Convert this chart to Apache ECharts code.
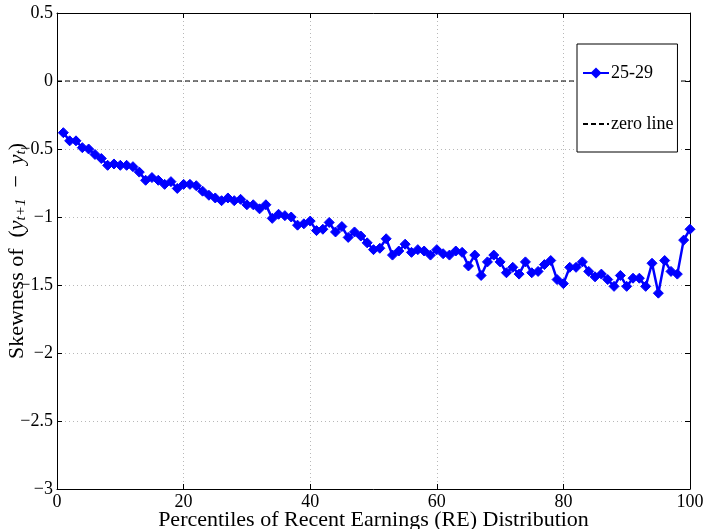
<!DOCTYPE html>
<html>
<head>
<meta charset="utf-8">
<script src="https://cdn.jsdelivr.net/npm/echarts@6/dist/echarts.min.js"></script>
<style>
  html, body { margin: 0; padding: 0; background: #fff; }
  #chart { width: 706px; height: 529px; }
</style>
</head>
<body>
<div id="chart"></div>
<script>
// 백분위 (1..100)
const percentiles = [
  1, 2, 3, 4, 5, 6, 7, 8, 9, 10, 11, 12, 13, 14, 15, 16, 17, 18, 19, 20,
  21, 22, 23, 24, 25, 26, 27, 28, 29, 30, 31, 32, 33, 34, 35, 36, 37, 38, 39, 40,
  41, 42, 43, 44, 45, 46, 47, 48, 49, 50, 51, 52, 53, 54, 55, 56, 57, 58, 59, 60,
  61, 62, 63, 64, 65, 66, 67, 68, 69, 70, 71, 72, 73, 74, 75, 76, 77, 78, 79, 80,
  81, 82, 83, 84, 85, 86, 87, 88, 89, 90, 91, 92, 93, 94, 95, 96, 97, 98, 99, 100
];

// 25-29 그룹 왜도
const skew2529 = [
  -0.38, -0.44, -0.44, -0.49, -0.50, -0.54, -0.57, -0.62, -0.61, -0.62,
  -0.62, -0.63, -0.67, -0.73, -0.71, -0.73, -0.76, -0.74, -0.79, -0.76,
  -0.76, -0.77, -0.81, -0.84, -0.86, -0.88, -0.86, -0.88, -0.87, -0.91,
  -0.91, -0.94, -0.91, -1.01, -0.98, -0.99, -1.00, -1.06, -1.05, -1.03,
  -1.10, -1.09, -1.04, -1.11, -1.07, -1.15, -1.11, -1.14, -1.19, -1.24,
  -1.23, -1.16, -1.28, -1.25, -1.20, -1.26, -1.24, -1.25, -1.28, -1.24,
  -1.27, -1.28, -1.25, -1.26, -1.36, -1.28, -1.43, -1.33, -1.28, -1.33,
  -1.41, -1.37, -1.42, -1.33, -1.41, -1.40, -1.35, -1.32, -1.46, -1.49,
  -1.37, -1.37, -1.33, -1.40, -1.44, -1.42, -1.46, -1.51, -1.43, -1.51,
  -1.45, -1.45, -1.51, -1.34, -1.56, -1.32, -1.40, -1.42, -1.17, -1.09
];

// 기준선
const zeroX = [0, 100];
const zeroY = [0, 0];

const seriesName = '25-29';
const zeroName = 'zero line';
const xTitle = 'Percentiles of Recent Earnings (RE) Distribution';

const font = '"Liberation Serif", "DejaVu Serif", serif';
const fmtMinus = function (v) { return String(v).replace('-', '\u2212'); };

const chart = echarts.init(document.getElementById('chart'));

const gridLine = { show: true, lineStyle: { color: '#b8b8b8', type: [1, 3], width: 1 } };
const axisLine = { show: true, onZero: false, lineStyle: { color: '#000', width: 1 } };
const tick = { show: true, inside: true, length: 5, lineStyle: { color: '#000' } };

chart.setOption({
  animation: false,
  backgroundColor: '#fff',
  grid: { left: 57, right: 16, top: 13, bottom: 40, containLabel: false, outerBoundsMode: 'none' },
  legend: {
    orient: 'vertical',
    left: 577,
    top: 44,
    data: [
      { name: seriesName },
      { name: zeroName, itemStyle: { color: 'transparent', borderColor: 'transparent' } }
    ],
    itemWidth: 26,
    itemHeight: 14,
    itemGap: 33,
    padding: [20, 4, 19, 5],
    borderColor: '#000',
    borderWidth: 1,
    backgroundColor: '#fff',
    textStyle: { fontFamily: font, fontSize: 18, lineHeight: 14, color: '#000', padding: [0, 0, 0, -3] }
  },
  xAxis: [
    {
      type: 'value', min: 0, max: 100, interval: 20,
      name: xTitle, nameLocation: 'middle', nameGap: 21, nameMoveOverlap: false,
      nameTextStyle: { fontFamily: font, fontSize: 22, color: '#000', lineHeight: 20 },
      axisLine: axisLine, axisTick: tick, splitLine: gridLine,
      axisLabel: { fontFamily: font, fontSize: 18, color: '#000', margin: 4 }
    },
    {
      type: 'value', min: 0, max: 100, interval: 20, position: 'top',
      axisLine: axisLine, axisTick: tick, splitLine: { show: false },
      axisLabel: { show: false }
    }
  ],
  yAxis: [
    {
      type: 'value', min: -3, max: 0.5, interval: 0.5,
      name: '{n|Skewness of  (}{i|y}{s|t+1}{n|  \u2212  }{i|y}{s|t}{n|)}',
      nameLocation: 'middle', nameGap: 28, nameRotate: 90, nameMoveOverlap: false,
      nameTextStyle: {
        fontFamily: font, fontSize: 22, color: '#000',
        rich: {
          n: { fontFamily: font, fontSize: 22, color: '#000' },
          i: { fontFamily: font, fontSize: 22, fontStyle: 'italic', color: '#000' },
          s: { fontFamily: font, fontSize: 15, fontStyle: 'italic', color: '#000', padding: [9, 0, 0, 0] }
        }
      },
      axisLine: axisLine, axisTick: tick, splitLine: gridLine,
      axisLabel: { fontFamily: font, fontSize: 18, color: '#000', margin: 4, formatter: fmtMinus }
    },
    {
      type: 'value', min: -3, max: 0.5, interval: 0.5, position: 'right',
      axisLine: axisLine, axisTick: tick, splitLine: { show: false },
      axisLabel: { show: false }
    }
  ],
  series: [
    {
      name: seriesName,
      type: 'line',
      data: percentiles.map((p, i) => [p, skew2529[i]]),
      symbol: 'diamond',
      symbolSize: 10,
      showAllSymbol: true,
      lineStyle: { color: '#0000ff', width: 2.5 },
      itemStyle: { color: '#0000ff', borderColor: '#0000ff' },
      z: 3
    },
    {
      name: zeroName,
      type: 'line',
      data: zeroX.map((x, i) => [x, zeroY[i]]),
      symbol: 'none',
      lineStyle: { color: '#000', width: 1.2, type: [5, 3] },
      itemStyle: { color: '#000' },
      z: 2
    }
  ]
});
</script>
</body>
</html>
